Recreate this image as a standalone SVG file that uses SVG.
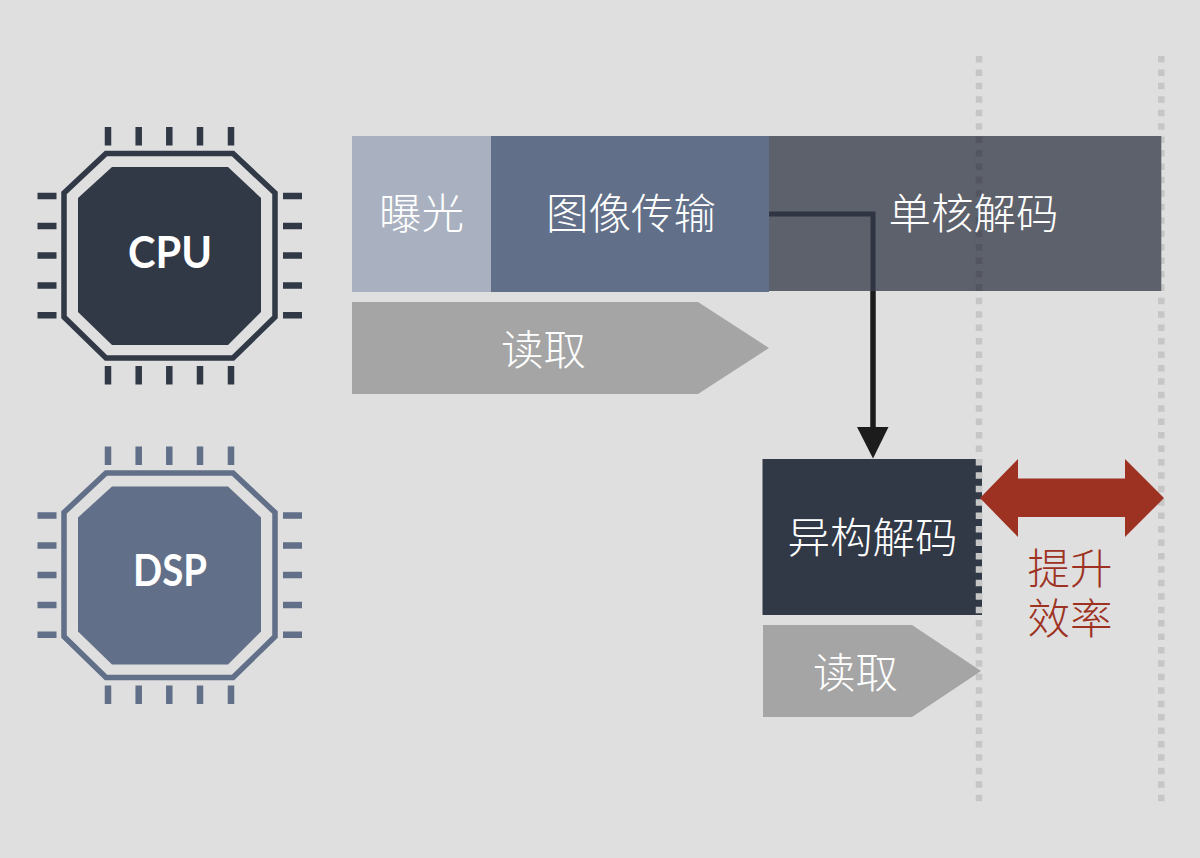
<svg xmlns="http://www.w3.org/2000/svg" width="1200" height="858" viewBox="0 0 1200 858">
<style>
.t{font-family:"Noto Sans CJK SC","Noto Sans",sans-serif;font-size:42.500px;font-weight:300;fill:#fff;text-anchor:middle}
.c{font-family:Lato,"Open Sans",sans-serif;font-weight:700;fill:#fff;text-anchor:middle}
.g{stroke:#c6c6c6;stroke-width:6.500;stroke-dasharray:6.500 6.930;fill:none}
.gd{stroke:#53565f;stroke-width:6.500;stroke-dasharray:6.500 6.930;fill:none}
</style>
<defs>
<g id="chip">
<polygon points="106,153.500 233,153.500 275,193 275,317 233,358 106,358 64,317 64,193" fill="none" stroke="currentColor" stroke-width="5.500"/>
<polygon points="112,167 228,167 261,198 261,312 228,345 112,345 78,312 78,198" fill="currentColor"/>
<path d="M108 127v18.500M138.700 127v18.500M169.300 127v18.500M200 127v18.500M231 127v18.500M108 366v18.500M138.700 366v18.500M169.300 366v18.500M200 366v18.500M231 366v18.500M37.500 196h19M37.500 226h19M37.500 255.600h19M37.500 285.600h19M37.500 315.300h19M283 196h19M283 226h19M283 255.600h19M283 285.600h19M283 315.300h19" fill="none" stroke="currentColor" stroke-width="6.500"/>
</g>
<clipPath id="band"><rect x="970" y="136" width="200" height="155"/></clipPath>
<clipPath id="het"><rect x="970" y="459" width="20" height="156"/></clipPath>
</defs>
<rect width="1200" height="858" fill="#dfdfdf"/>
<g id="guides"><line class="g" x1="979" y1="56" x2="979" y2="803"/><line class="g" x1="1161.300" y1="56" x2="1161.300" y2="803"/></g>
<g id="cpu" color="#313846"><use href="#chip"/><text class="c" x="170" y="268" font-size="43" textLength="84" lengthAdjust="spacingAndGlyphs">CPU</text></g>
<g id="dsp" color="#616f88"><use href="#chip" y="319.500"/><text class="c" x="170" y="586" font-size="43" textLength="74" lengthAdjust="spacingAndGlyphs">DSP</text></g>
<g id="exposure"><rect x="352" y="136" width="139" height="156" fill="#a9b1c0"/><text class="t" x="421.500" y="229">曝光</text></g>
<g id="transfer"><rect x="491" y="136" width="278" height="156" fill="#616f88"/><text class="t" x="631" y="229">图像传输</text></g>
<g id="single-decode"><rect x="769" y="136" width="392.300" height="155" fill="#5d616c"/><g clip-path="url(#band)"><line class="gd" x1="979" y1="56" x2="979" y2="803"/></g><text class="t" x="973.500" y="229">单核解码</text></g>
<g id="read1"><polygon points="352,302 698,302 769,348 698,394 352,394" fill="#a5a5a5"/><text class="t" x="543.500" y="365">读取</text></g>
<g id="hetero-decode"><rect x="762.500" y="459" width="219.500" height="156" fill="#313846"/><g clip-path="url(#het)"><line class="g" x1="979" y1="56" x2="979" y2="803"/></g><text class="t" x="872.500" y="553">异构解码</text></g>
<g id="read2"><polygon points="763,625 912,625 981,671 912,717 763,717" fill="#a5a5a5"/><text class="t" x="855.500" y="688">读取</text></g>
<g id="gain"><polygon points="980,498 1018,459 1018,478.500 1125,478.500 1125,459 1164,498 1125,537 1125,517 1018,517 1018,537" fill="#9e3222"/><text class="t" style="fill:#9e3222"><tspan x="1070" y="584">提升</tspan><tspan x="1070" y="634">效率</tspan></text></g>
<g id="connectors"><path d="M769 214H873V291" fill="none" stroke="#2f3542" stroke-width="5"/><path d="M873 291V430" fill="none" stroke="#1c1c1c" stroke-width="5.500"/><polygon points="857,427 888.500,427 873,458.500" fill="#1c1c1c"/></g>
</svg>
